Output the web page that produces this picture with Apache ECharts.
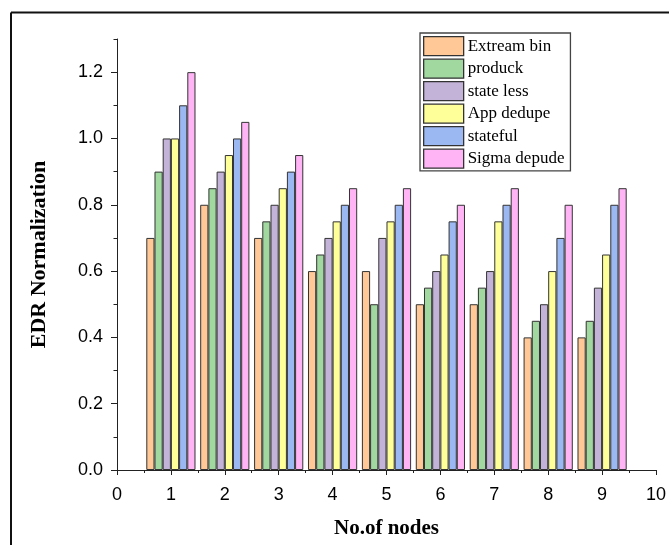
<!DOCTYPE html>
<html>
<head>
<meta charset="utf-8">
<script src="https://cdn.jsdelivr.net/npm/echarts@6/dist/echarts.min.js"></script>
<style>
    html, body { margin: 0; padding: 0; background: #fff; }
    #chart { width: 669px; height: 545px; }
</style>
</head>
<body>
<div id="chart"></div>
<script>
// 노드 수 (x)
const nodes = [1, 2, 3, 4, 5, 6, 7, 8, 9];

// 시리즈별 값
const extreamBin = [0.7, 0.8, 0.7, 0.6, 0.6, 0.5, 0.5, 0.4, 0.4];
const produck = [0.9, 0.85, 0.75, 0.65, 0.5, 0.55, 0.55, 0.45, 0.45];
const stateLess = [1.0, 0.9, 0.8, 0.7, 0.7, 0.6, 0.6, 0.5, 0.55];
const appDedupe = [1.0, 0.95, 0.85, 0.75, 0.75, 0.65, 0.75, 0.6, 0.65];
const stateful = [1.1, 1.0, 0.9, 0.8, 0.8, 0.75, 0.8, 0.7, 0.8];
const sigmaDepude = [1.2, 1.05, 0.95, 0.85, 0.85, 0.8, 0.85, 0.8, 0.85];

const seriesNames = ["Extream bin", "produck", "state less", "App dedupe", "stateful", "Sigma depude"];
const seriesValues = [extreamBin, produck, stateLess, appDedupe, stateful, sigmaDepude];
const seriesColors = ["#FFC896", "#A0D8A0", "#C3B3D8", "#FFFF99", "#9BB8F2", "#FFB4F6"];

const chart = echarts.init(document.getElementById("chart"));

const tickLabelStyle = {
    color: "#000",
    fontFamily: "Liberation Sans",
    fontSize: 18
};

const axisLineStyle = {
    lineStyle: { color: "#222", width: 1 }
};

chart.setOption({
    animation: false,
    backgroundColor: "#fff",
    grid: {
        left: 117,
        right: 13,
        top: 39,
        bottom: 75
    },
    legend: {
        orient: "vertical",
        left: 420,
        top: 33,
        padding: [3, 6, 2, 3],
        itemWidth: 40,
        itemHeight: 19,
        itemGap: 2.2,
        borderColor: "#444",
        borderWidth: 1.3,
        icon: "rect",
        itemStyle: {
            borderColor: "#333",
            borderWidth: 1.3
        },
        textStyle: {
            color: "#000",
            fontFamily: "Liberation Serif",
            fontSize: 17,
            lineHeight: 19,
            padding: [0, 0, 0, -1]
        },
        data: seriesNames
    },
    xAxis: {
        type: "value",
        min: 0,
        max: 10,
        interval: 1,
        name: "No.of nodes",
        nameLocation: "middle",
        nameGap: 48,
        nameTextStyle: {
            color: "#000",
            fontFamily: "Liberation Serif",
            fontWeight: "bold",
            fontSize: 21
        },
        axisLine: axisLineStyle,
        axisTick: { show: true, length: 5, lineStyle: { color: "#222" } },
        minorTick: { show: true, splitNumber: 2, length: 3, lineStyle: { color: "#222" } },
        axisLabel: Object.assign({ margin: 16 }, tickLabelStyle),
        splitLine: { show: false }
    },
    yAxis: [
        {
            type: "value",
            min: 0,
            max: 1.3,
            interval: 0.2,
            name: "EDR Normalization",
            nameLocation: "middle",
            nameGap: 67,
            nameTextStyle: {
                color: "#000",
                fontFamily: "Liberation Serif",
                fontWeight: "bold",
                fontSize: 22
            },
            axisLine: axisLineStyle,
            axisTick: { show: true, length: 6, lineStyle: { color: "#222" } },
            axisLabel: Object.assign({
                margin: 14,
                showMaxLabel: false,
                formatter: function (v) {
                    return v.toFixed(1);
                }
            }, tickLabelStyle),
            splitLine: { show: false }
        },
        {
            // 보조 눈금 (0.1 간격)
            type: "value",
            position: "left",
            offset: 0,
            min: 0,
            max: 1.3,
            interval: 0.1,
            axisLine: { show: false },
            axisTick: { show: true, length: 3.5, lineStyle: { color: "#222" } },
            axisLabel: { show: false },
            splitLine: { show: false }
        }
    ],
    graphic: [
        {
            type: "line",
            shape: { x1: 11, y1: 12.5, x2: 669, y2: 12.5 },
            style: { stroke: "#111", lineWidth: 2 }
        },
        {
            type: "line",
            shape: { x1: 11, y1: 12.5, x2: 11, y2: 545 },
            style: { stroke: "#111", lineWidth: 2 }
        }
    ],
    series: seriesNames.map(function (name, i) {
        return {
            name: name,
            type: "bar",
            barWidth: 8.2,
            barGap: "0%",
            itemStyle: {
                color: seriesColors[i],
                borderColor: "#333",
                borderWidth: 1
            },
            data: nodes.map(function (n, j) {
                return [n, seriesValues[i][j]];
            })
        };
    })
});
</script>
</body>
</html>
